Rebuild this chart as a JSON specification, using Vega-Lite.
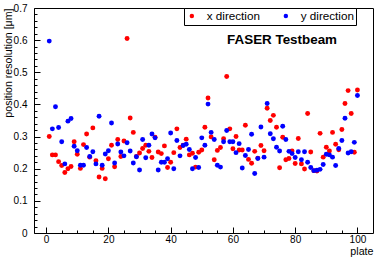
{
  "$schema": "https://vega.github.io/schema/vega-lite/v6.json",
  "width": 339,
  "height": 225,
  "autosize": {"type": "none"},
  "padding": {"left": 34, "top": 8, "right": 8, "bottom": 27},
  "background": "white",
  "config": {
    "view": {"stroke": "black", "strokeWidth": 1},
    "font": "Liberation Sans"
  },
  "title": {"text": "FASER Testbeam", "anchor": "end", "frame": "group", "orient": "top", "offset": -50, "dx": -36, "baseline": "middle", "font": "Liberation Sans", "fontSize": 13.4, "fontWeight": "bold", "color": "black"},
  "datasets": {
    "res": [
      {"plate":1,"dir":"x direction","res":0.300},{"plate":2,"dir":"x direction","res":0.243},{"plate":3,"dir":"x direction","res":0.243},{"plate":4,"dir":"x direction","res":0.222},{"plate":5,"dir":"x direction","res":0.210},
      {"plate":6,"dir":"x direction","res":0.188},{"plate":7,"dir":"x direction","res":0.200},{"plate":8,"dir":"x direction","res":0.207},{"plate":9,"dir":"x direction","res":0.284},{"plate":10,"dir":"x direction","res":0.245},
      {"plate":11,"dir":"x direction","res":0.201},{"plate":12,"dir":"x direction","res":0.275},{"plate":13,"dir":"x direction","res":0.308},{"plate":14,"dir":"x direction","res":0.236},{"plate":15,"dir":"x direction","res":0.327},
      {"plate":16,"dir":"x direction","res":0.225},{"plate":17,"dir":"x direction","res":0.174},{"plate":18,"dir":"x direction","res":0.201},{"plate":19,"dir":"x direction","res":0.169},{"plate":20,"dir":"x direction","res":0.231},
      {"plate":21,"dir":"x direction","res":0.273},{"plate":22,"dir":"x direction","res":0.206},{"plate":23,"dir":"x direction","res":0.291},{"plate":24,"dir":"x direction","res":0.238},{"plate":25,"dir":"x direction","res":0.286},
      {"plate":26,"dir":"x direction","res":0.605},{"plate":27,"dir":"x direction","res":0.358},{"plate":28,"dir":"x direction","res":0.313},{"plate":29,"dir":"x direction","res":0.238},{"plate":30,"dir":"x direction","res":0.249},
      {"plate":31,"dir":"x direction","res":0.263},{"plate":32,"dir":"x direction","res":0.273},{"plate":33,"dir":"x direction","res":0.254},{"plate":34,"dir":"x direction","res":0.235},{"plate":35,"dir":"x direction","res":0.298},
      {"plate":36,"dir":"x direction","res":0.252},{"plate":37,"dir":"x direction","res":0.247},{"plate":38,"dir":"x direction","res":0.271},{"plate":39,"dir":"x direction","res":0.204},{"plate":40,"dir":"x direction","res":0.220},
      {"plate":41,"dir":"x direction","res":0.250},{"plate":42,"dir":"x direction","res":0.324},{"plate":43,"dir":"x direction","res":0.266},{"plate":44,"dir":"x direction","res":0.273},{"plate":45,"dir":"x direction","res":0.292},
      {"plate":46,"dir":"x direction","res":0.243},{"plate":47,"dir":"x direction","res":0.248},{"plate":48,"dir":"x direction","res":0.205},{"plate":49,"dir":"x direction","res":0.251},{"plate":50,"dir":"x direction","res":0.258},
      {"plate":51,"dir":"x direction","res":0.329},{"plate":52,"dir":"x direction","res":0.420},{"plate":53,"dir":"x direction","res":0.299},{"plate":54,"dir":"x direction","res":0.228},{"plate":55,"dir":"x direction","res":0.257},
      {"plate":56,"dir":"x direction","res":0.266},{"plate":57,"dir":"x direction","res":0.293},{"plate":58,"dir":"x direction","res":0.487},{"plate":59,"dir":"x direction","res":0.324},{"plate":60,"dir":"x direction","res":0.262},
      {"plate":61,"dir":"x direction","res":0.300},{"plate":62,"dir":"x direction","res":0.258},{"plate":63,"dir":"x direction","res":0.258},{"plate":64,"dir":"x direction","res":0.335},{"plate":65,"dir":"x direction","res":0.229},
      {"plate":66,"dir":"x direction","res":0.217},{"plate":67,"dir":"x direction","res":0.254},{"plate":68,"dir":"x direction","res":0.233},{"plate":69,"dir":"x direction","res":0.272},{"plate":70,"dir":"x direction","res":0.256},
      {"plate":71,"dir":"x direction","res":0.388},{"plate":72,"dir":"x direction","res":0.350},{"plate":73,"dir":"x direction","res":0.366},{"plate":74,"dir":"x direction","res":0.329},{"plate":75,"dir":"x direction","res":0.203},
      {"plate":76,"dir":"x direction","res":0.298},{"plate":77,"dir":"x direction","res":0.228},{"plate":78,"dir":"x direction","res":0.232},{"plate":79,"dir":"x direction","res":0.255},{"plate":80,"dir":"x direction","res":0.216},
      {"plate":81,"dir":"x direction","res":0.294},{"plate":82,"dir":"x direction","res":0.215},{"plate":83,"dir":"x direction","res":0.199},{"plate":84,"dir":"x direction","res":0.372},{"plate":85,"dir":"x direction","res":0.252},
      {"plate":86,"dir":"x direction","res":0.194},{"plate":87,"dir":"x direction","res":0.193},{"plate":88,"dir":"x direction","res":0.310},{"plate":89,"dir":"x direction","res":0.236},{"plate":90,"dir":"x direction","res":0.267},
      {"plate":91,"dir":"x direction","res":0.255},{"plate":92,"dir":"x direction","res":0.313},{"plate":93,"dir":"x direction","res":0.276},{"plate":94,"dir":"x direction","res":0.259},{"plate":95,"dir":"x direction","res":0.322},
      {"plate":96,"dir":"x direction","res":0.403},{"plate":97,"dir":"x direction","res":0.443},{"plate":98,"dir":"x direction","res":0.372},{"plate":99,"dir":"x direction","res":0.251},{"plate":100,"dir":"x direction","res":0.445},
      {"plate":1,"dir":"y direction","res":0.597},{"plate":2,"dir":"y direction","res":0.324},{"plate":3,"dir":"y direction","res":0.393},{"plate":4,"dir":"y direction","res":0.328},{"plate":5,"dir":"y direction","res":0.284},
      {"plate":6,"dir":"y direction","res":0.215},{"plate":7,"dir":"y direction","res":0.348},{"plate":8,"dir":"y direction","res":0.356},{"plate":9,"dir":"y direction","res":0.270},{"plate":10,"dir":"y direction","res":0.256},
      {"plate":11,"dir":"y direction","res":0.211},{"plate":12,"dir":"y direction","res":0.211},{"plate":13,"dir":"y direction","res":0.266},{"plate":14,"dir":"y direction","res":0.238},{"plate":15,"dir":"y direction","res":0.253},
      {"plate":16,"dir":"y direction","res":0.215},{"plate":17,"dir":"y direction","res":0.363},{"plate":18,"dir":"y direction","res":0.211},{"plate":19,"dir":"y direction","res":0.246},{"plate":20,"dir":"y direction","res":0.256},
      {"plate":21,"dir":"y direction","res":0.342},{"plate":22,"dir":"y direction","res":0.218},{"plate":23,"dir":"y direction","res":0.277},{"plate":24,"dir":"y direction","res":0.252},{"plate":25,"dir":"y direction","res":0.240},
      {"plate":26,"dir":"y direction","res":0.281},{"plate":27,"dir":"y direction","res":0.255},{"plate":28,"dir":"y direction","res":0.218},{"plate":29,"dir":"y direction","res":0.237},{"plate":30,"dir":"y direction","res":0.196},
      {"plate":31,"dir":"y direction","res":0.291},{"plate":32,"dir":"y direction","res":0.234},{"plate":33,"dir":"y direction","res":0.273},{"plate":34,"dir":"y direction","res":0.308},{"plate":35,"dir":"y direction","res":0.296},
      {"plate":36,"dir":"y direction","res":0.196},{"plate":37,"dir":"y direction","res":0.220},{"plate":38,"dir":"y direction","res":0.220},{"plate":39,"dir":"y direction","res":0.231},{"plate":40,"dir":"y direction","res":0.311},
      {"plate":41,"dir":"y direction","res":0.200},{"plate":42,"dir":"y direction","res":0.288},{"plate":43,"dir":"y direction","res":0.240},{"plate":44,"dir":"y direction","res":0.272},{"plate":45,"dir":"y direction","res":0.276},
      {"plate":46,"dir":"y direction","res":0.260},{"plate":47,"dir":"y direction","res":0.200},{"plate":48,"dir":"y direction","res":0.235},{"plate":49,"dir":"y direction","res":0.204},{"plate":50,"dir":"y direction","res":0.296},
      {"plate":51,"dir":"y direction","res":0.273},{"plate":52,"dir":"y direction","res":0.401},{"plate":53,"dir":"y direction","res":0.313},{"plate":54,"dir":"y direction","res":0.291},{"plate":55,"dir":"y direction","res":0.211},
      {"plate":56,"dir":"y direction","res":0.205},{"plate":57,"dir":"y direction","res":0.284},{"plate":58,"dir":"y direction","res":0.319},{"plate":59,"dir":"y direction","res":0.284},{"plate":60,"dir":"y direction","res":0.284},
      {"plate":61,"dir":"y direction","res":0.250},{"plate":62,"dir":"y direction","res":0.278},{"plate":63,"dir":"y direction","res":0.202},{"plate":64,"dir":"y direction","res":0.241},{"plate":65,"dir":"y direction","res":0.260},
      {"plate":66,"dir":"y direction","res":0.307},{"plate":67,"dir":"y direction","res":0.185},{"plate":68,"dir":"y direction","res":0.232},{"plate":69,"dir":"y direction","res":0.330},{"plate":70,"dir":"y direction","res":0.236},
      {"plate":71,"dir":"y direction","res":0.403},{"plate":72,"dir":"y direction","res":0.309},{"plate":73,"dir":"y direction","res":0.293},{"plate":74,"dir":"y direction","res":0.267},{"plate":75,"dir":"y direction","res":0.255},
      {"plate":76,"dir":"y direction","res":0.332},{"plate":77,"dir":"y direction","res":0.291},{"plate":78,"dir":"y direction","res":0.254},{"plate":79,"dir":"y direction","res":0.247},{"plate":80,"dir":"y direction","res":0.235},
      {"plate":81,"dir":"y direction","res":0.253},{"plate":82,"dir":"y direction","res":0.228},{"plate":83,"dir":"y direction","res":0.253},{"plate":84,"dir":"y direction","res":0.220},{"plate":85,"dir":"y direction","res":0.204},
      {"plate":86,"dir":"y direction","res":0.194},{"plate":87,"dir":"y direction","res":0.195},{"plate":88,"dir":"y direction","res":0.198},{"plate":89,"dir":"y direction","res":0.213},{"plate":90,"dir":"y direction","res":0.245},
      {"plate":91,"dir":"y direction","res":0.243},{"plate":92,"dir":"y direction","res":0.236},{"plate":93,"dir":"y direction","res":0.210},{"plate":94,"dir":"y direction","res":0.263},{"plate":95,"dir":"y direction","res":0.288},
      {"plate":96,"dir":"y direction","res":0.357},{"plate":97,"dir":"y direction","res":0.249},{"plate":98,"dir":"y direction","res":0.253},{"plate":99,"dir":"y direction","res":0.282},{"plate":100,"dir":"y direction","res":0.428}
    ]
  },
  "data": {"name": "res"},
  "mark": {"type": "circle", "size": 24, "opacity": 1},
  "encoding": {
    "x": {
      "field": "plate", "type": "quantitative",
      "scale": {"domain": [-3.9, 105], "nice": false, "zero": false},
      "axis": {
        "values": [0,5,10,15,20,25,30,35,40,45,50,55,60,65,70,75,80,85,90,95,100],
        "labelExpr": "datum.value % 20 === 0 ? format(datum.value, 'd') : ''",
        "tickSize": {"condition": {"test": "datum.value % 20 === 0", "value": -6}, "value": -3},
        "tickColor": "black",
        "labelPadding": 7.5,
        "labelFont": "Liberation Sans", "labelFontSize": 10, "labelColor": "black",
        "labelFlush": false, "labelOverlap": false,
        "domain": false, "grid": false,
        "title": "plate", "titleX": 339, "titleY": 18.7, "titleAlign": "right", "titleBaseline": "middle",
        "titleFont": "Liberation Sans", "titleFontSize": 10.7, "titleFontWeight": "normal", "titleColor": "black"
      }
    },
    "y": {
      "field": "res", "type": "quantitative",
      "scale": {"domain": [0, 0.7], "nice": false, "zero": false},
      "axis": {
        "values": [0,0.02,0.04,0.06,0.08,0.1,0.12,0.14,0.16,0.18,0.2,0.22,0.24,0.26,0.28,0.3,0.32,0.34,0.36,0.38,0.4,0.42,0.44,0.46,0.48,0.5,0.52,0.54,0.56,0.58,0.6,0.62,0.64,0.66,0.68,0.7],
        "labelExpr": "round(datum.value * 100) % 10 === 0 ? format(datum.value, '.1~f') : ''",
        "tickSize": {"condition": {"test": "round(datum.value * 100) % 10 === 0", "value": -6}, "value": -3},
        "tickColor": "black",
        "labelPadding": 13,
        "labelFont": "Liberation Sans", "labelFontSize": 10, "labelColor": "black",
        "labelFlush": false, "labelOverlap": false,
        "domain": false, "grid": false,
        "title": "position resolution [μm]", "titleX": -25.5, "titleY": 0, "titleAngle": -90, "titleAlign": "right", "titleBaseline": "middle",
        "titleFont": "Liberation Sans", "titleFontSize": 10.6, "titleFontWeight": "normal", "titleColor": "black"
      }
    },
    "color": {
      "field": "dir", "type": "nominal",
      "scale": {"domain": ["x direction", "y direction"], "range": ["#ff0000", "#0000ff"]},
      "legend": {
        "title": null, "orient": "none", "legendX": 150, "legendY": 0, "direction": "horizontal",
        "symbolType": "circle", "symbolSize": 20, "symbolStrokeWidth": 0,
        "labelOffset": 9, "columnPadding": 20, "padding": 2,
        "strokeColor": "black", "fillColor": "white", "cornerRadius": 0,
        "labelFont": "Liberation Sans", "labelFontSize": 11.7, "labelColor": "black"
      }
    }
  }
}
